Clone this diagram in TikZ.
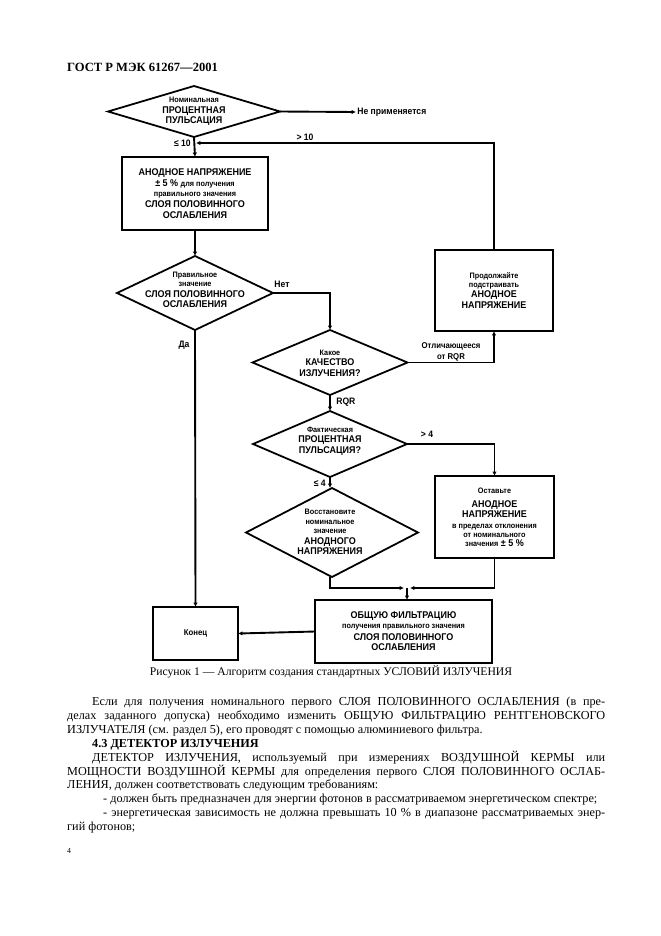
\documentclass[tikz,border=0pt]{standalone}
\usepackage{fontspec}
\setmainfont{Liberation Serif}
\newfontfamily\fcfont[FakeStretch=0.92]{Liberation Sans}
\usetikzlibrary{shapes.geometric,arrows.meta}
\newcommand\fcbig{\fontsize{8.8}{9.6}\selectfont}
\newcommand\fcsmall{\fontsize{7.1}{9.6}\selectfont}
\newcommand\fclab{\fontsize{8.4}{9.6}\selectfont}
\tikzset{
  conn/.style={line width=1.7pt},
  arr/.style={conn,-{Latex[length=4pt,width=4pt]}},
  fcbox/.style={draw,line width=1.7pt,rectangle,inner sep=0pt,outer sep=0pt,align=center,font=\fcfont\bfseries\fcbig},
  fcdiam/.style={draw,line width=1.6pt,diamond,inner sep=0pt,outer sep=0pt},
  fctext/.style={align=center,inner sep=0pt,font=\fcfont\bfseries\fcbig},
  fclabel/.style={inner sep=1pt,font=\fcfont\bfseries\fclab},
  bodyline/.style={anchor=base west,inner sep=0pt,font=\fontsize{11}{13}\selectfont}
}
\begin{document}
\begin{tikzpicture}[x=0.9pt,y=-0.9pt]
\useasboundingbox (0,0) rectangle (661,936);
\fill[white] (0,0) rectangle (661,936);

% header
\node[bodyline,font=\fontsize{11.3}{13}\selectfont\bfseries] (hdr) at (67,71) {ГОСТ Р МЭК 61267—2001};

% ---- flowchart ----
\node[fcdiam,minimum width=172*0.9pt,minimum height=51*0.9pt] (d1) at (194,111.5) {};
\node[fctext] (d1t) at (194,111.5) {{\fcsmall Номинальная}\\ПРОЦЕНТНАЯ\\ПУЛЬСАЦИЯ};
\node[fclabel,anchor=west] (np) at (356,112) {Не применяется};

\node[fcbox,minimum width=146*0.9pt,minimum height=73*0.9pt] (b1) at (195,193.5)
  {АНОДНОЕ НАПРЯЖЕНИЕ\\± 5 \% {\fcsmall для получения}\\{\fcsmall правильного значения}\\СЛОЯ ПОЛОВИННОГО\\ОСЛАБЛЕНИЯ};

\node[fcdiam,minimum width=156*0.9pt,minimum height=74*0.9pt] (d2) at (195,293) {};
\node[fctext] (d2t) at (195,290) {{\fcsmall Правильное}\\[-1.5pt]{\fcsmall значение}\\СЛОЯ ПОЛОВИННОГО\\ОСЛАБЛЕНИЯ};

\node[fcdiam,minimum width=155*0.9pt,minimum height=65*0.9pt] (d3) at (330,362.5) {};
\node[fctext] (d3t) at (330,363) {{\fcsmall Какое}\\КАЧЕСТВО\\ИЗЛУЧЕНИЯ?};

\node[fcbox,minimum width=118*0.9pt,minimum height=81*0.9pt] (b2) at (494,290.5)
  {{\fcsmall Продолжайте}\\[-1.5pt]{\fcsmall подстраивать}\\АНОДНОЕ\\НАПРЯЖЕНИЕ};

\node[fcdiam,minimum width=154*0.9pt,minimum height=66*0.9pt] (d4) at (330,444) {};
\node[fctext] (d4t) at (330,441) {{\fcsmall Фактическая}\\ПРОЦЕНТНАЯ\\ПУЛЬСАЦИЯ?};

\node[fcdiam,minimum width=172*0.9pt,minimum height=89*0.9pt] (d5) at (332,532.5) {};
\node[fctext] (d5t) at (330,532) {{\fcsmall Восстановите}\\[-1pt]{\fcsmall номинальное}\\[-1pt]{\fcsmall значение}\\АНОДНОГО\\НАПРЯЖЕНИЯ};

\node[fcbox,minimum width=119*0.9pt,minimum height=82*0.9pt] (b3) at (494.5,517)
  {{\fcsmall Оставьте}\\[3pt]АНОДНОЕ\\НАПРЯЖЕНИЕ\\{\fcsmall в пределах отклонения}\\[-1.5pt]{\fcsmall от номинального}\\[-1.5pt]{\fcsmall значения} ± 5 \%};

\node[fcbox,minimum width=177*0.9pt,minimum height=63*0.9pt] (b4) at (403.5,631.5)
  {ОБЩУЮ ФИЛЬТРАЦИЮ\\[-1pt]{\fcsmall получения правильного значения}\\[1pt]СЛОЯ ПОЛОВИННОГО\\ОСЛАБЛЕНИЯ};

\node[fcbox,minimum width=85*0.9pt,minimum height=53*0.9pt,font=\fcfont\bfseries\fontsize{7.6}{9}\selectfont] (kon) at (195.5,633.5) {Конец};

% coordinates
\coordinate (j1) at (196,143);
\coordinate (m1) at (404,588);
\coordinate (m2) at (410,588);
\coordinate (m) at (407,588);

% connectors
\draw[arr] (d1.east) -- (np.west);
\draw[arr] (d1.south) -- (b1.north);
\draw[arr] (b2.north) |- (j1);
\draw[arr] (b1.south) -- (d2.north);
\draw[arr] (d2.east) -| (d3.north);
\draw[arr] (d2.south) -- (kon.north);
\draw[arr] (d3.east) -| (b2.south);
\draw[arr] (d3.south) -- (d4.north);
\draw[arr] (d4.east) -| (b3.north);
\draw[arr] (d4.south) -- ([xshift=-2*0.9pt]d5.north);
\draw[arr] ([xshift=-2*0.9pt]d5.south) |- (m1);
\draw[arr] (b3.south) |- (m2);
\draw[arr] (m) -- (b4.north -| m);
\draw[arr] (b4.west) -- (kon.east);

% labels
\node[fclabel,anchor=east] (l10) at (192,143) {≤ 10};
\node[fclabel] (g10) at (305,137) {> 10};
\node[fclabel] (net) at (282,284) {Нет};
\node[fclabel] (da) at (184,345) {Да};
\node[fclabel,align=center,font=\fcfont\bfseries\fontsize{7.6}{10.5}\selectfont] (otl) at (451,352) {Отличающееся\\от RQR};
\node[fclabel,anchor=west] (rqr) at (335,402) {RQR};
\node[fclabel] (g4) at (427,434) {> 4};
\node[fclabel,anchor=east] (l4) at (327,483) {≤ 4};

% caption
\node[inner sep=0pt,font=\fontsize{10.5}{13}\selectfont] (cap) at (331,672) {Рисунок 1 — Алгоритм создания стандартных УСЛОВИЙ ИЗЛУЧЕНИЯ};

% body text
\node[bodyline] (t1) at (92,705.5) {\makebox[461.7pt][s]{Если для получения номинального первого СЛОЯ ПОЛОВИННОГО ОСЛАБЛЕНИЯ (в пре-}};
\node[bodyline] (t2) at (67,719.5) {\makebox[484.2pt][s]{делах заданного допуска) необходимо изменить ОБЩУЮ ФИЛЬТРАЦИЮ РЕНТГЕНОВСКОГО}};
\node[bodyline] (t3) at (67,733.5) {ИЗЛУЧАТЕЛЯ (см. раздел 5), его проводят с помощью алюминиевого фильтра.};
\node[bodyline,font=\fontsize{11}{13}\selectfont\bfseries] (t4) at (92,747.5) {4.3 ДЕТЕКТОР ИЗЛУЧЕНИЯ};
\node[bodyline] (t5) at (92,761.5) {\makebox[461.7pt][s]{ДЕТЕКТОР ИЗЛУЧЕНИЯ, используемый при измерениях ВОЗДУШНОЙ КЕРМЫ или}};
\node[bodyline] (t6) at (67,775) {\makebox[484.2pt][s]{МОЩНОСТИ ВОЗДУШНОЙ КЕРМЫ для определения первого СЛОЯ ПОЛОВИННОГО ОСЛАБ-}};
\node[bodyline] (t7) at (67,788.5) {ЛЕНИЯ, должен соответствовать следующим требованиям:};
\node[bodyline] (t8) at (103,802) {- должен быть предназначен для энергии фотонов в рассматриваемом энергетическом спектре;};
\node[bodyline] (t9) at (103,816) {\makebox[451.8pt][s]{- энергетическая зависимость не должна превышать 10 \% в диапазоне рассматриваемых энер-}};
\node[bodyline] (t10) at (67,830) {гий фотонов;};
\node[bodyline,font=\fontsize{7}{8}\selectfont] (pg) at (67,853) {4};
\end{tikzpicture}
\end{document}
